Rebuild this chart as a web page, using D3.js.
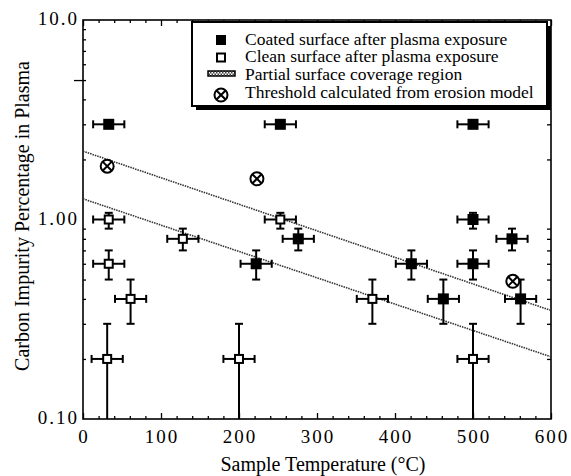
<!DOCTYPE html>
<html>
<head>
<meta charset="utf-8">
<script src="https://cdn.jsdelivr.net/npm/d3@7"></script>
<style>
body { margin: 0; background: #fff; }
svg { font-family: "Liberation Serif", "Times New Roman", serif; }
</style>
</head>
<body>
<svg id="chart" width="571" height="476"></svg>
<script>
// each point: [temperature (C), carbon %, error low, error high] - null = no vertical bar
var coated = [
    [33, 3.0, null, null],
    [253, 3.0, null, null],
    [500, 3.0, null, null],
    [500, 1.0, 0.9, 1.08],
    [550, 0.8, 0.7, 0.9],
    [276, 0.8, 0.7, 0.9],
    [222, 0.6, 0.5, 0.7],
    [421, 0.6, 0.5, 0.7],
    [500, 0.6, 0.5, 0.7],
    [462, 0.4, 0.3, 0.5],
    [561, 0.4, 0.3, 0.5]
]
var clean = [
    [33, 1.0, 0.9, 1.08],
    [33, 0.6, 0.5, 0.7],
    [61, 0.4, 0.3, 0.5],
    [31, 0.2, 0.1, 0.3],
    [128, 0.8, 0.7, 0.9],
    [200, 0.2, 0.1, 0.3],
    [253, 1.0, 0.9, 1.08],
    [371, 0.4, 0.3, 0.5],
    [500, 0.2, 0.1, 0.3]
]
var threshold = [[31, 1.85], [223, 1.6], [551, 0.49]]
var tempErr = 20

// partial surface coverage region (two bounding lines)
var bandTemp = [0, 600]
var bandUpper = [2.2, 0.35]
var bandLower = [1.27, 0.205]

var xTicks = [0, 100, 200, 300, 400, 500, 600]
var yTicks = [0.1, 1, 10]
var yTickLabels = ["0.10", "1.00", "10.0"]
var legendLabels = [
    "Coated surface after plasma exposure",
    "Clean surface after plasma exposure",
    "Partial surface coverage region",
    "Threshold calculated from erosion model"
]

var margin = {top: 20, right: 20, bottom: 57, left: 83}
var width = 571 - margin.left - margin.right
var height = 476 - margin.top - margin.bottom

var svg = d3.select("#chart")

var defs = svg.append("defs")
var pat = defs.append("pattern")
    .attr("id", "hatch")
    .attr("width", 3).attr("height", 3)
    .attr("patternUnits", "userSpaceOnUse")
pat.append("rect").attr("width", 3).attr("height", 3).attr("fill", "#fff")
pat.append("rect").attr("width", 1.5).attr("height", 1.5).attr("fill", "#444")
pat.append("rect").attr("x", 1.5).attr("y", 1.5).attr("width", 1.5).attr("height", 1.5).attr("fill", "#444")

var g = svg.append("g")
    .attr("transform", "translate(" + margin.left + "," + margin.top + ")")

var xScale = d3.scaleLinear().domain([0, 600]).range([0, width])
var yScale = d3.scaleLog().domain([0.1, 10]).range([height, 0])

// minor/major tick values
var yMinor = []
;[0.1, 1].forEach(function (d) {
    for (var k = 2; k <= 9; k++) yMinor.push(d * k)
})
var xMinor = d3.range(0, 601, 20).filter(function (d) { return d % 100 != 0 })

function tickAxis(axis, cls, tr) {
    var a = g.append("g").attr("class", cls)
    if (tr) a.attr("transform", tr)
    a.call(axis)
    a.select(".domain").remove()
    a.selectAll("line").attr("stroke", "#000").attr("stroke-width", 1.3)
    a.selectAll("text").remove()
}

// ticks point inward on all four sides
tickAxis(d3.axisBottom(xScale).tickValues(xMinor).tickSize(-3), "xminor", "translate(0," + height + ")")
tickAxis(d3.axisBottom(xScale).tickValues(xTicks).tickSize(-6), "xmajor", "translate(0," + height + ")")
tickAxis(d3.axisTop(xScale).tickValues(xMinor).tickSize(-3), "xminorTop")
tickAxis(d3.axisTop(xScale).tickValues(xTicks).tickSize(-6), "xmajorTop")
tickAxis(d3.axisLeft(yScale).tickValues(yMinor).tickSize(-3), "yminor")
tickAxis(d3.axisRight(yScale).tickValues(yMinor).tickSize(-4), "yminorR", "translate(" + width + ",0)")
// odd outside dash at 5
tickAxis(d3.axisLeft(yScale).tickValues([5]).tickSize(9).tickPadding(0), "ydash")

// frame
g.append("rect")
    .attr("width", width).attr("height", height)
    .attr("fill", "none").attr("stroke", "#000").attr("stroke-width", 1.6)

// tick labels
g.selectAll(".xlab").data(xTicks).enter().append("text")
    .attr("class", "xlab")
    .attr("x", function (d) { return xScale(d) + 1 })
    .attr("y", height + 24)
    .attr("text-anchor", "middle")
    .style("font-size", "19px")
    .style("letter-spacing", "2px")
    .text(function (d) { return d })

g.selectAll(".ylab").data(yTicks).enter().append("text")
    .attr("class", "ylab")
    .attr("x", -4)
    .attr("y", function (d) { return yScale(d) + 5 })
    .attr("text-anchor", "end")
    .style("font-size", "19px")
    .style("letter-spacing", "2px")
    .text(function (d, i) { return yTickLabels[i] })

// axis titles
svg.append("text")
    .attr("x", margin.left + width / 2 + 6)
    .attr("y", 471)
    .attr("text-anchor", "middle")
    .style("font-size", "20px")
    .text("Sample Temperature (°C)")

svg.append("text")
    .attr("transform", "translate(29,216) rotate(-90)")
    .attr("text-anchor", "middle")
    .style("font-size", "20px")
    .text("Carbon Impurity Percentage in Plasma")

// partial coverage lines
var bandLine = d3.line()
    .x(function (d) { return xScale(d[0]) })
    .y(function (d) { return yScale(d[1]) })
;[bandUpper, bandLower].forEach(function (vals) {
    g.append("path")
        .datum(bandTemp.map(function (t, i) { return [t, vals[i]] }))
        .attr("d", bandLine)
        .attr("fill", "none")
        .attr("stroke", "#333")
        .attr("stroke-width", 1.6)
        .attr("stroke-dasharray", "1.5,1")
})

// error bars
function errorBars(data) {
    var cap = 4
    data.forEach(function (d) {
        var cx = xScale(d[0]), cy = yScale(d[1])
        var x0 = xScale(d[0] - tempErr), x1 = xScale(d[0] + tempErr)
        var eb = g.append("g").attr("stroke", "#000").attr("stroke-width", 2)
        eb.append("line").attr("x1", x0).attr("x2", x1).attr("y1", cy).attr("y2", cy)
        eb.append("line").attr("x1", x0).attr("x2", x0).attr("y1", cy - cap).attr("y2", cy + cap)
        eb.append("line").attr("x1", x1).attr("x2", x1).attr("y1", cy - cap).attr("y2", cy + cap)
        if (d[2] != null) {
            var y0 = yScale(d[2]), y1 = yScale(d[3])
            eb.append("line").attr("x1", cx).attr("x2", cx).attr("y1", y0).attr("y2", y1)
            eb.append("line").attr("x1", cx - cap).attr("x2", cx + cap).attr("y1", y1).attr("y2", y1)
            if (d[2] > 0.1)
                eb.append("line").attr("x1", cx - cap).attr("x2", cx + cap).attr("y1", y0).attr("y2", y0)
        }
    })
}
errorBars(coated)
errorBars(clean)

g.selectAll(".coated").data(coated).enter().append("rect")
    .attr("class", "coated")
    .attr("x", function (d) { return xScale(d[0]) - 5.5 })
    .attr("y", function (d) { return yScale(d[1]) - 5.5 })
    .attr("width", 11).attr("height", 11)
    .attr("fill", "#000")

g.selectAll(".clean").data(clean).enter().append("rect")
    .attr("class", "clean")
    .attr("x", function (d) { return xScale(d[0]) - 4 })
    .attr("y", function (d) { return yScale(d[1]) - 4 })
    .attr("width", 8).attr("height", 8)
    .attr("fill", "#fff").attr("stroke", "#000").attr("stroke-width", 2)

function crossCircle(sel, cx, cy, r) {
    var c = sel.append("g").attr("transform", "translate(" + cx + "," + cy + ")")
        .attr("stroke", "#000").attr("stroke-width", 2).attr("fill", "#fff")
    c.append("circle").attr("r", r)
    var k = r * 0.7
    c.append("line").attr("x1", -k).attr("y1", -k).attr("x2", k).attr("y2", k)
    c.append("line").attr("x1", -k).attr("y1", k).attr("x2", k).attr("y2", -k)
}
threshold.forEach(function (d) {
    crossCircle(g, xScale(d[0]), yScale(d[1]), 6.5)
})

// legend
var lg = svg.append("g")
lg.append("rect").attr("x", 196).attr("y", 26).attr("width", 355).attr("height", 84).attr("fill", "#000")
lg.append("rect").attr("x", 192).attr("y", 22).attr("width", 355).attr("height", 84)
    .attr("fill", "#fff").attr("stroke", "#000").attr("stroke-width", 2)
var symX = 221
lg.append("rect").attr("x", symX - 5).attr("y", 35).attr("width", 10).attr("height", 10).attr("fill", "#000")
lg.append("rect").attr("x", symX - 4).attr("y", 53.5).attr("width", 8).attr("height", 8)
    .attr("fill", "#fff").attr("stroke", "#000").attr("stroke-width", 2)
lg.append("rect").attr("x", 208).attr("y", 71).attr("width", 27).attr("height", 5)
    .attr("fill", "url(#hatch)").attr("stroke", "#000").attr("stroke-width", 1.5)
crossCircle(lg, symX, 95, 6.5)

lg.selectAll(".leg").data(legendLabels).enter().append("text")
    .attr("class", "leg")
    .attr("x", 245)
    .attr("y", function (d, i) { return 44.5 + i * 17.7 })
    .style("font-size", "17.5px")
    .text(function (d) { return d })
</script>
</body>
</html>
